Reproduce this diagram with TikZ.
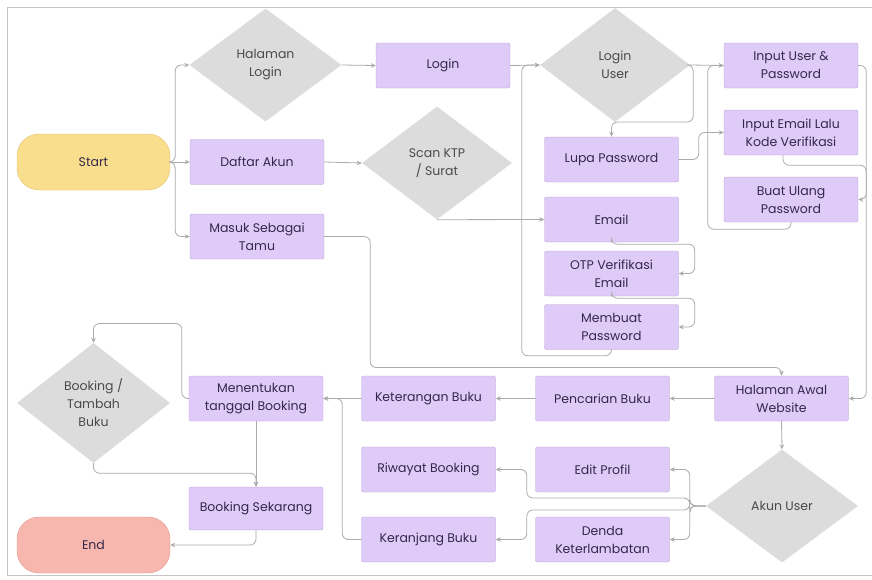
\documentclass[tikz,border=0pt]{standalone}
\usepackage{fontspec}
\setmainfont{Poppins}
\usepackage{xcolor}
\usepackage{tikz}
\usetikzlibrary{arrows.meta,shapes.geometric}

\definecolor{boxfill}{HTML}{DFCBF7}
\definecolor{boxline}{HTML}{BBA3D6}
\definecolor{boxtext}{HTML}{33284A}
\definecolor{decfill}{HTML}{DCDCDC}
\definecolor{dectext}{HTML}{4A4A4A}
\definecolor{startfill}{HTML}{F9DE8E}
\definecolor{startline}{HTML}{E3C26A}
\definecolor{endfill}{HTML}{F7B7AE}
\definecolor{endline}{HTML}{E19A90}
\definecolor{linegray}{HTML}{ABABAB}

\begin{document}
\begin{tikzpicture}[>={Stealth[length=5pt,width=4.5pt]}, line cap=round, line join=round,
  x=1pt, y=-1pt,
  box/.style={draw=boxline, fill=boxfill, rounded corners=2pt, minimum width=134pt,
    minimum height=45pt, align=center, text=boxtext, inner sep=1pt,
    font=\fontsize{12.5}{18}\selectfont},
  dec/.style={diamond, fill=decfill, minimum width=152pt, minimum height=113pt,
    inner sep=0pt, align=center, text=dectext, font=\fontsize{12.5}{18}\selectfont},
  term/.style={rounded corners=22pt, minimum width=153pt, minimum height=56pt,
    text=boxtext, font=\fontsize{12.5}{18}\selectfont},
  link/.style={->, draw=linegray, line width=0.8pt, rounded corners=6pt}]

\useasboundingbox (0,0) rectangle (872,579);

% Cornice
\draw[linegray!70] (872,7) -- (7,7) -- (7,575) -- (872,575);

% Nodi
\node[term, draw=startline, fill=startfill] (start) at (93.5,162) {Start};
\node[dec] (hlogin) at (265.5,65) {Halaman\\Login};
\node[box] (login) at (443,65.5) {Login};
\node[dec, minimum width=150pt, minimum height=114pt] (luser) at (615,65) {Login\\User};
\node[box] (inuser) at (791,65.5) {Input User \&\\Password};
\node[box] (inemail) at (791,132.5) {Input Email Lalu\\Kode Verifikasi};
\node[box] (buat) at (791,199.5) {Buat Ulang\\Password};
\node[box] (daftar) at (257,162) {Daftar Akun};
\node[dec, minimum width=150pt] (scan) at (437,163) {Scan KTP\\/ Surat};
\node[box] (lupa) at (611.5,159.5) {Lupa Password};
\node[box] (email) at (611.5,219.5) {Email};
\node[box] (otp) at (611.5,273.5) {OTP Verifikasi\\Email};
\node[box] (membuat) at (611.5,327) {Membuat\\Password};
\node[box] (tamu) at (257,236.5) {Masuk Sebagai\\Tamu};
\node[box] (awal) at (781.5,398.5) {Halaman Awal\\Website};
\node[box] (cari) at (602.5,398.5) {Pencarian Buku};
\node[box] (ket) at (428.5,398.5) {Keterangan Buku};
\node[box] (tentu) at (256,398.5) {Menentukan\\tanggal Booking};
\node[dec, minimum width=153pt, minimum height=120pt] (booktam) at (93.5,403) {Booking /\\Tambah\\Buku};
\node[box] (riwayat) at (428.5,469.5) {Riwayat Booking};
\node[box] (edit) at (602.5,469.5) {Edit Profil};
\node[dec] (akun) at (782,506) {Akun User};
\node[box] (keranjang) at (428.5,539.5) {Keranjang Buku};
\node[box] (denda) at (602.5,539.5) {Denda\\Keterlambatan};
\node[box, minimum height=43pt] (sekarang) at (256,508.5) {Booking Sekarang};
\node[term, draw=endline, fill=endfill] (end) at (93.5,545) {End};

% Collegamenti in alto
\draw[link] (start.east) -- ++(5,0) |- (hlogin.west);
\draw[link] (start.east) -- (daftar.west);
\draw[link] (start.east) -- ++(5,0) |- (tamu.west);
\draw[link] (hlogin.east) -- (login.west);
\draw[link] (daftar.east) -- (scan.west);
\draw[link] (login.east) -- (luser.west);
\draw[link] (scan.south) -- (email.west);
\draw[link] (luser.east) -- (inuser.west);
\draw[link] (luser.east) -- ++(3,0) -- ++(0,57) -| (lupa.north);
\draw[link] (lupa.east) -- ++(20,0) |- (inemail.west);
\draw[link] ([xshift=-8pt]inemail.south) -- ++(0,10) -| ([xshift=8pt]buat.east) -- (buat.east);
\draw[link] (buat.south) -- ++(0,7) -| ([xshift=-16pt]inuser.west) -- (inuser.west);
\draw[link] (inuser.east) -- ++(8,0) |- (awal.east);
\draw[link] (email.south) -- ++(0,2) -| ([xshift=16pt]otp.east) -- (otp.east);
\draw[link] (otp.south) -- ++(0,2) -| ([xshift=16pt]membuat.east) -- (membuat.east);
\draw[link] (membuat.south) -- ++(0,6) -| ([xshift=-18pt]luser.west) -- (luser.west);
\draw[link] (tamu.east) -- ++(46,0) -- ++(0,131) -| (awal.north);

% Collegamenti in basso
\draw[link] (awal.west) -- (cari.east);
\draw[link] (cari.west) -- (ket.east);
\draw[link] (ket.west) -- (tentu.east);
\draw[link] (awal.south) -- (akun.north);
\draw[link] (akun.west) -- ++(-16,0) |- (edit.east);
\draw[link] (akun.west) -- ++(-16,0) |- (denda.east);
\draw[link] (akun.west) -- ++(-16,0) -- ++(0,-8) -- ++(-163,0) |- (riwayat.east);
\draw[link] (akun.west) -- ++(-16,0) -- ++(0,4) -- ++(-163,0) |- (keranjang.east);
\draw[link] (keranjang.west) -- ++(-19,0) |- (tentu.east);
\draw[link] (tentu.west) -- ++(-7,0) -- ++(0,-75) -| (booktam.north);
\draw[link] (tentu.south) -- (sekarang.north);
\draw[link] (booktam.south) -- ++(0,10) -| (sekarang.north);
\draw[link] (sekarang.south) |- (end.east);

\end{tikzpicture}
\end{document}
